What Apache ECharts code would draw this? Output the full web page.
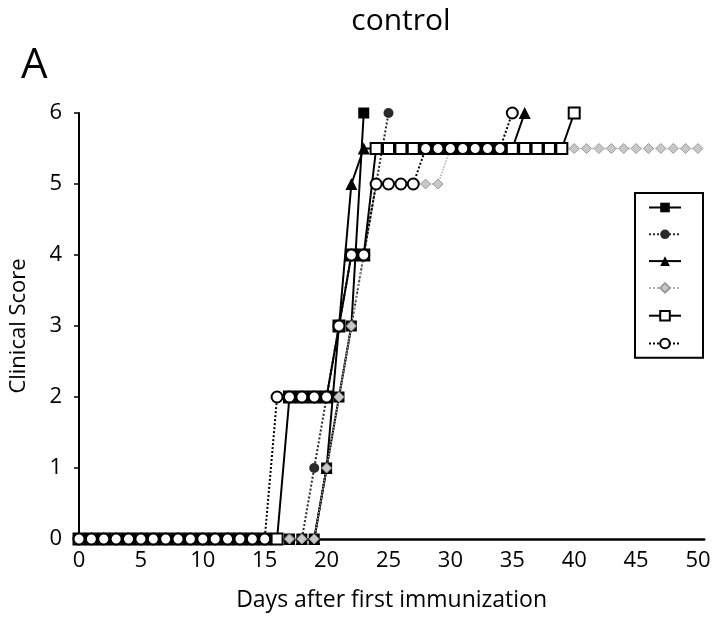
<!DOCTYPE html>
<html>
<head>
<meta charset="utf-8">
<script src="https://cdn.jsdelivr.net/npm/echarts@6/dist/echarts.min.js"></script>
<style>
html,body{margin:0;padding:0;background:#fff;}
#chart{width:720px;height:620px;}
</style>
</head>
<body>
<div id="chart"></div>
<script>
// Clinical score per day, each list starts at day 0
const seriesNames = ['Mouse 1', 'Mouse 2', 'Mouse 3', 'Mouse 4', 'Mouse 5', 'Mouse 6'];
const filledSquare = [0,0,0,0,0,0,0,0,0,0,0,0,0,0,0,0,0,0,0,0, 1,2,3,6];
const filledCircle = [0,0,0,0,0,0,0,0,0,0,0,0,0,0,0,0,0,0,0, 1,2,2,3,4,5,6];
const filledTriangle = [0,0,0,0,0,0,0,0,0,0,0,0,0,0,0,0,0,0,0,0, 1,3,5,
  5.5,5.5,5.5,5.5,5.5,5.5,5.5,5.5,5.5,5.5,5.5,5.5,5.5, 6];
const grayDiamond = [0,0,0,0,0,0,0,0,0,0,0,0,0,0,0,0,0,0,0,0, 1,2,3,4,
  5,5,5,5,5,5,
  5.5,5.5,5.5,5.5,5.5,5.5,5.5,5.5,5.5,5.5,5.5,5.5,5.5,5.5,5.5,5.5,5.5,5.5,5.5,5.5,5.5];
const openSquare = [0,0,0,0,0,0,0,0,0,0,0,0,0,0,0,0,0, 2,2,2,2, 3, 4,4,
  5.5,5.5,5.5,5.5,5.5,5.5,5.5,5.5,5.5,5.5,5.5,5.5,5.5,5.5,5.5,5.5, 6];
const openCircle = [0,0,0,0,0,0,0,0,0,0,0,0,0,0,0,0, 2,2,2,2,2, 3, 4,4,
  5,5,5,5, 5.5,5.5,5.5,5.5,5.5,5.5,5.5, 6];
const xTicks = [0,5,10,15,20,25,30,35,40,45,50];
const yTicks = [0,1,2,3,4,5,6];

const FONT = '"Open Sans", sans-serif';
const toPairs = arr => arr.map((v, i) => [i, v]);

const styles = [
  {symbol:'rect', size:11, fill:'#000', border:'#000', bw:0, line:'#000', type:'solid', lw:2},
  {symbol:'circle', size:10, fill:'#2a2a2a', border:'#2a2a2a', bw:0, line:'#2a2a2a', type:'dotted', lw:2},
  {symbol:'triangle', size:12, fill:'#000', border:'#000', bw:0, line:'#000', type:'solid', lw:2},
  {symbol:'diamond', size:10, fill:'#c8c8c8', border:'#999', bw:1, line:'#aaa', type:'dotted', lw:1.5},
  {symbol:'rect', size:11, fill:'#fff', border:'#000', bw:2, line:'#000', type:'solid', lw:2},
  {symbol:'circle', size:11, fill:'#fff', border:'#000', bw:2, line:'#000', type:'dotted', lw:2}
];
const dataSets = [filledSquare, filledCircle, filledTriangle, grayDiamond, openSquare, openCircle];

const series = dataSets.map((d, i) => {
  const s = styles[i];
  return {
    name: seriesNames[i],
    type: 'line',
    data: toPairs(d),
    symbol: s.symbol,
    symbolSize: s.size,
    showAllSymbol: true,
    animation: false,
    itemStyle: {color: s.fill, borderColor: s.border, borderWidth: s.bw},
    lineStyle: {color: s.line, type: s.type, width: s.lw},
    emphasis: {disabled: true}
  };
});

const chart = echarts.init(document.getElementById('chart'), null, {renderer:'canvas'});
chart.setOption({
  backgroundColor: '#fff',
  animation: false,
  title: [
    {text: 'control', left: 396, top: 1, textAlign: 'center',
     textStyle: {fontFamily: FONT, fontSize: 30, fontWeight: 'normal', color: '#000'}},
    {text: 'A', left: 16, top: 40,
     textStyle: {fontFamily: FONT, fontSize: 42, fontWeight: 'normal', color: '#000'}}
  ],
  grid: {left: 76, right: 15.8, top: 113, bottom: 81, containLabel: false},
  legend: {
    orient: 'vertical', left: 635, top: 193,
    data: seriesNames,
    itemWidth: 32, itemHeight: 12, itemGap: 16,
    padding: [8.5, 21, 8.5, 13],
    borderColor: '#000', borderWidth: 2, backgroundColor: '#fff',
    formatter: () => '',
    textStyle: {fontSize: 1},
    selectedMode: false
  },
  xAxis: {
    type: 'value', min: 0, max: 50.5, interval: 5,
    name: 'Days after first immunization', nameLocation: 'middle', nameGap: 50,
    nameTextStyle: {fontFamily: FONT, fontSize: 23, color: '#000'},
    axisLine: {show: true, onZero: false, lineStyle: {color: '#000', width: 2.5}},
    axisTick: {show: false},
    axisLabel: {fontFamily: FONT, fontSize: 22, color: '#000', margin: 11,
      formatter: v => xTicks.indexOf(v) >= 0 ? String(v) : ''},
    splitLine: {show: false}
  },
  yAxis: {
    type: 'value', min: 0, max: 6, interval: 1, offset: 7,
    name: 'Clinical Score', nameLocation: 'middle', nameGap: 42, nameRotate: 90,
    nameTextStyle: {fontFamily: FONT, fontSize: 22, color: '#000'},
    axisLine: {show: true, lineStyle: {color: '#000', width: 2}},
    axisTick: {show: true, inside: false, length: 5, lineStyle: {color: '#000', width: 1.5}},
    axisLabel: {fontFamily: FONT, fontSize: 22, color: '#000', margin: 10,
      formatter: v => yTicks.indexOf(v) >= 0 ? String(v) : ''},
    splitLine: {show: false}
  },
  series: series
});
</script>
</body>
</html>
